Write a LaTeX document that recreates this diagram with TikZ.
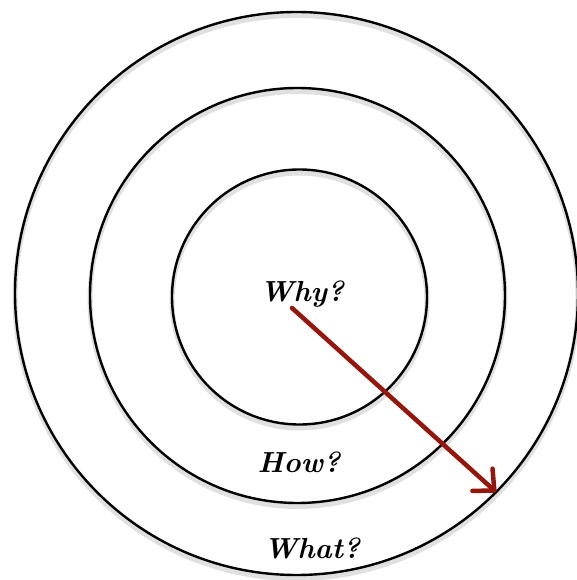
\documentclass[tikz,border=0pt]{standalone}
\usetikzlibrary{arrows.meta}
\definecolor{arrowred}{RGB}{150,22,12}
\tikzset{
  ring/.style={circle, draw=black, line width=2.4pt, inner sep=0pt, minimum size=#1},
  ringshadow/.style={circle, draw=black!12, line width=5pt, inner sep=0pt, minimum size=#1},
  label/.style={font=\fontsize{29}{29}\selectfont\bfseries\itshape, inner sep=0pt},
  bigarrow/.style={draw=arrowred, line width=4.5pt, line cap=round, -{Straight Barb[length=16pt, width=30pt, line width=4.5pt, round]}}
}
\begin{document}
\begin{tikzpicture}[x=1pt, y=-1pt]
\useasboundingbox (0,0) rectangle (577,580);
\fill[white] (0,0) rectangle (577,580);
% soft shadows
\node[ringshadow=563pt] at (296.5,297) {};
\node[ringshadow=415pt] at (297.5,299) {};
\node[ringshadow=255pt] at (299.5,300.5) {};
% rings
\node[ring=563pt] (outer) at (296.5,293.5) {};
\node[ring=415pt] (middle) at (297.5,295.5) {};
\node[ring=255pt] (inner) at (299.5,297) {};
% labels
\node[label] (why) at (302,294) {Why?};
\node[label] (how) at (299,462) {How?};
\node[label] (what) at (312,548) {What?};
% arrow
\coordinate (start) at (292,308);
\coordinate (tip) at (496,492);
\draw[bigarrow] (start) -- (tip);
\end{tikzpicture}
\end{document}
